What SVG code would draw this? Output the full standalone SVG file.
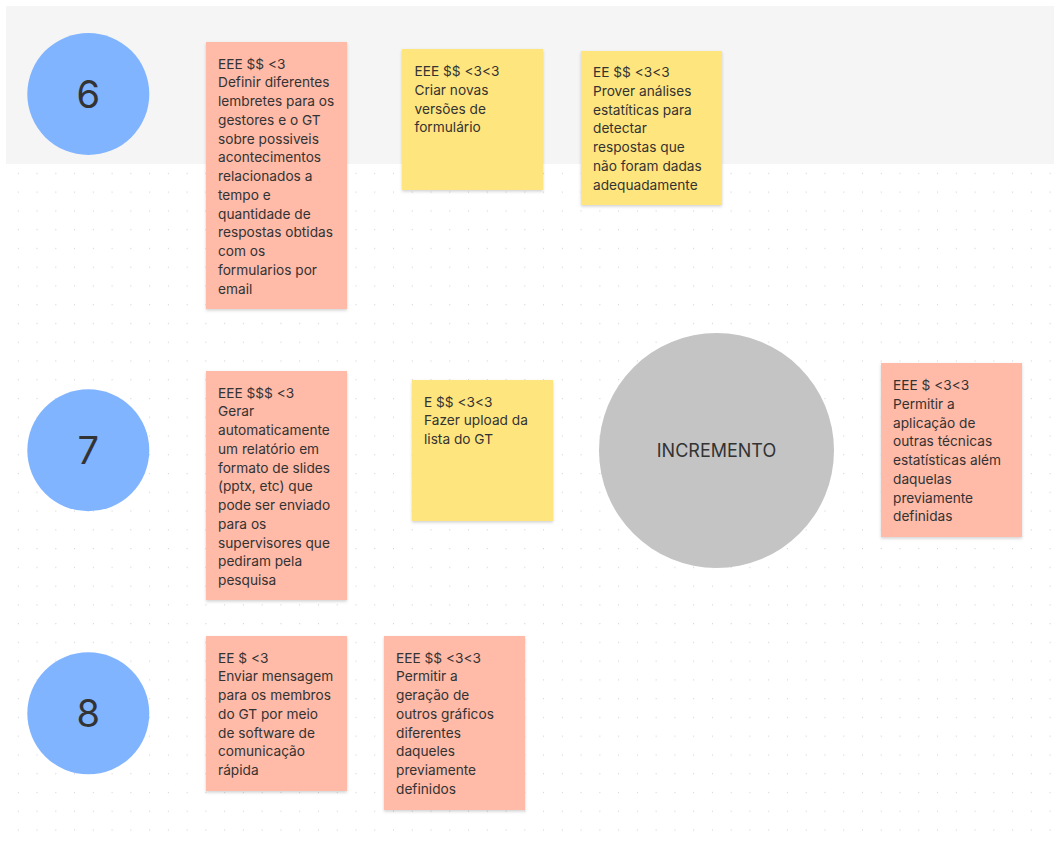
<svg xmlns="http://www.w3.org/2000/svg" width="1054" height="847" viewBox="0 0 1054 847">
  <defs>
    <pattern id="dotgrid" x="17.8" y="172.8" width="18.76" height="18.76" patternUnits="userSpaceOnUse">
      <rect x="0" y="0" width="1" height="1.2" fill="#d4d4d4"/>
    </pattern>
    <filter id="shadow" x="-10%" y="-10%" width="120%" height="125%">
      <feDropShadow dx="0" dy="1.5" stdDeviation="1.5" flood-color="#000" flood-opacity="0.18"/>
    </filter>
  </defs>
  <style>
    .note text { font-family: Inter, "Noto Sans", "Liberation Sans", sans-serif; font-size: 13.7px; fill: #333333; }
    .pink { fill: #ffbaa8; filter: url(#shadow); }
    .yellow { fill: #ffe57d; filter: url(#shadow); }
    .step { fill: #80b4ff; }
    .num { font-family: Inter, "Noto Sans", "Liberation Sans", sans-serif; font-size: 38px; fill: #333333; text-anchor: middle; }
    .inc { fill: #c4c4c4; }
    .inc-label { font-family: Inter, "Noto Sans", "Liberation Sans", sans-serif; font-size: 18px; fill: #333333; text-anchor: middle; }
  </style>

  <!-- canvas -->
  <rect x="0" y="0" width="1054" height="847" fill="#ffffff"/>
  <rect x="0" y="164" width="1054" height="683" fill="url(#dotgrid)"/>
  <rect x="6" y="6" width="1048" height="158" fill="#f5f5f5"/>

  <!-- connectors (none drawn) -->
  <g id="connectors"/>

  <!-- step markers -->
  <g id="step-6">
    <circle class="step" cx="88.3" cy="94" r="61"/>
    <text class="num" x="88.3" y="107.5">6</text>
  </g>
  <g id="step-7">
    <circle class="step" cx="88.3" cy="450.3" r="61"/>
    <text class="num" x="88.3" y="463.8">7</text>
  </g>
  <g id="step-8">
    <circle class="step" cx="88.3" cy="713.3" r="61"/>
    <text class="num" x="88.3" y="726.8">8</text>
  </g>

  <!-- increment -->
  <g id="incremento">
    <circle class="inc" cx="716.5" cy="450.5" r="117.5"/>
    <text class="inc-label" x="716.5" y="456.9">INCREMENTO</text>
  </g>

  <!-- sticky notes -->
  <g id="note-lembretes" class="note">
    <rect class="pink" x="206" y="42" width="141" height="267"/>
    <text x="218" y="68.5">
      <tspan x="218" dy="0">EEE $$ &lt;3</tspan>
      <tspan x="218" dy="18.75">Definir diferentes</tspan>
      <tspan x="218" dy="18.75">lembretes para os</tspan>
      <tspan x="218" dy="18.75">gestores e o GT</tspan>
      <tspan x="218" dy="18.75">sobre possiveis</tspan>
      <tspan x="218" dy="18.75">acontecimentos</tspan>
      <tspan x="218" dy="18.75">relacionados a</tspan>
      <tspan x="218" dy="18.75">tempo e</tspan>
      <tspan x="218" dy="18.75">quantidade de</tspan>
      <tspan x="218" dy="18.75">respostas obtidas</tspan>
      <tspan x="218" dy="18.75">com os</tspan>
      <tspan x="218" dy="18.75">formularios por</tspan>
      <tspan x="218" dy="18.75">email</tspan>
    </text>
  </g>

  <g id="note-versoes" class="note">
    <rect class="yellow" x="402" y="49" width="141" height="141"/>
    <text x="414.5" y="76">
      <tspan x="414.5" dy="0">EEE $$ &lt;3&lt;3</tspan>
      <tspan x="414.5" dy="18.75">Criar novas</tspan>
      <tspan x="414.5" dy="18.75">versões de</tspan>
      <tspan x="414.5" dy="18.75">formulário</tspan>
    </text>
  </g>

  <g id="note-analises" class="note">
    <rect class="yellow" x="581" y="51" width="141" height="154"/>
    <text x="593" y="77">
      <tspan x="593" dy="0">EE $$ &lt;3&lt;3</tspan>
      <tspan x="593" dy="18.75">Prover análises</tspan>
      <tspan x="593" dy="18.75">estatíticas para</tspan>
      <tspan x="593" dy="18.75">detectar</tspan>
      <tspan x="593" dy="18.75">respostas que</tspan>
      <tspan x="593" dy="18.75">não foram dadas</tspan>
      <tspan x="593" dy="18.75">adequadamente</tspan>
    </text>
  </g>

  <g id="note-relatorio" class="note">
    <rect class="pink" x="206" y="371" width="141" height="229"/>
    <text x="218" y="397.5">
      <tspan x="218" dy="0">EEE $$$ &lt;3</tspan>
      <tspan x="218" dy="18.75">Gerar</tspan>
      <tspan x="218" dy="18.75">automaticamente</tspan>
      <tspan x="218" dy="18.75">um relatório em</tspan>
      <tspan x="218" dy="18.75">formato de slides</tspan>
      <tspan x="218" dy="18.75">(pptx, etc) que</tspan>
      <tspan x="218" dy="18.75">pode ser enviado</tspan>
      <tspan x="218" dy="18.75">para os</tspan>
      <tspan x="218" dy="18.75">supervisores que</tspan>
      <tspan x="218" dy="18.75">pediram pela</tspan>
      <tspan x="218" dy="18.75">pesquisa</tspan>
    </text>
  </g>

  <g id="note-upload" class="note">
    <rect class="yellow" x="412" y="380" width="141" height="141"/>
    <text x="424" y="406.7">
      <tspan x="424" dy="0">E $$ &lt;3&lt;3</tspan>
      <tspan x="424" dy="18.75">Fazer upload da</tspan>
      <tspan x="424" dy="18.75">lista do GT</tspan>
    </text>
  </g>

  <g id="note-tecnicas" class="note">
    <rect class="pink" x="881" y="363" width="141" height="174"/>
    <text x="893" y="390">
      <tspan x="893" dy="0">EEE $ &lt;3&lt;3</tspan>
      <tspan x="893" dy="18.75">Permitir a</tspan>
      <tspan x="893" dy="18.75">aplicação de</tspan>
      <tspan x="893" dy="18.75">outras técnicas</tspan>
      <tspan x="893" dy="18.75">estatísticas além</tspan>
      <tspan x="893" dy="18.75">daquelas</tspan>
      <tspan x="893" dy="18.75">previamente</tspan>
      <tspan x="893" dy="18.75">definidas</tspan>
    </text>
  </g>

  <g id="note-mensagem" class="note">
    <rect class="pink" x="206" y="636" width="141" height="155"/>
    <text x="218" y="662.5">
      <tspan x="218" dy="0">EE $ &lt;3</tspan>
      <tspan x="218" dy="18.75">Enviar mensagem</tspan>
      <tspan x="218" dy="18.75">para os membros</tspan>
      <tspan x="218" dy="18.75">do GT por meio</tspan>
      <tspan x="218" dy="18.75">de software de</tspan>
      <tspan x="218" dy="18.75">comunicação</tspan>
      <tspan x="218" dy="18.75">rápida</tspan>
    </text>
  </g>

  <g id="note-graficos" class="note">
    <rect class="pink" x="384" y="636" width="141" height="174"/>
    <text x="396" y="662.5">
      <tspan x="396" dy="0">EEE $$ &lt;3&lt;3</tspan>
      <tspan x="396" dy="18.75">Permitir a</tspan>
      <tspan x="396" dy="18.75">geração de</tspan>
      <tspan x="396" dy="18.75">outros gráficos</tspan>
      <tspan x="396" dy="18.75">diferentes</tspan>
      <tspan x="396" dy="18.75">daqueles</tspan>
      <tspan x="396" dy="18.75">previamente</tspan>
      <tspan x="396" dy="18.75">definidos</tspan>
    </text>
  </g>
</svg>
